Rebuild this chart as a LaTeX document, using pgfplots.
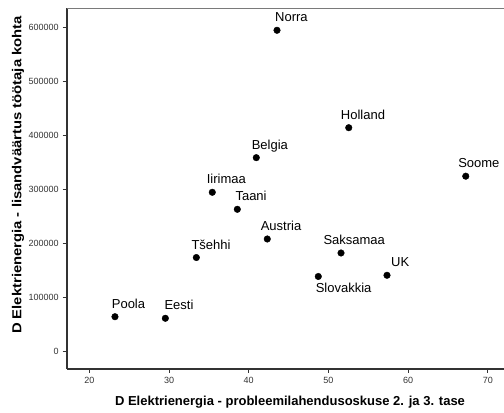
\documentclass[border=0pt]{standalone}
\usepackage{pgfplots}
\pgfplotsset{compat=1.18}
\usepackage{fontspec}
\setmainfont{Liberation Sans}
\definecolor{axdark}{HTML}{333333}
\definecolor{axtop}{HTML}{7A7A7A}
\begin{document}
\begin{tikzpicture}[x=1bp,y=1bp]
\path[use as bounding box] (0,0) rectangle (504,412);
\begin{axis}[
  at={(66.7bp,43.3bp)}, anchor=south west,
  scale only axis, width=437.3bp, height=360.4bp,
  xmin=17.164, xmax=72.03, ymin=-31480, ymax=635900,
  axis x line*=bottom, axis y line*=left,
  axis line style={axdark, line width=1.6bp, -},
  xtick={20,30,...,70}, ytick={0,100000,...,600000},
  tick align=outside, major tick length=4bp,
  tick style={axdark, line width=1bp},
  scaled y ticks=false,
  /pgf/number format/assume math mode=true,
  y tick label style={/pgf/number format/fixed, /pgf/number format/1000 sep={}},
  ticklabel style={font=\fontsize{9bp}{10bp}\selectfont, text=axdark},
  xticklabel style={yshift=-1bp},
  yticklabel style={xshift=-0.5bp},
  clip=false,
]
\draw[axtop, line width=1.3bp] (rel axis cs:0,1) -- (rel axis cs:1,1);
\addplot[only marks, mark=*, mark size=3.3bp, black,
  nodes near coords, point meta=explicit symbolic,
  visualization depends on={\thisrow{dx} \as \dx},
  visualization depends on={\thisrow{dy} \as \dy},
  nodes near coords style={anchor=base west, inner sep=0pt, xshift=\dx bp, yshift=\dy bp,
    font=\fontsize{13bp}{15bp}\selectfont, text=black}]
table[x=x, y=y, meta=label] {
x y label dx dy
43.55 595200 Norra -2 8.3
52.55 414800 Holland -8 8.3
40.95 359300 Belgia -4.7 8.3
67.23 325000 Soome -7.7 8.3
35.43 295200 Iirimaa -5.7 8.3
38.57 263700 Taani -2 8.3
42.33 208700 Austria -6.7 8.3
33.43 174400 Tšehhi -5 8.3
51.58 182800 Saksamaa -17.7 8.3
48.73 139300 Slovakkia -2.7 -15.7
57.35 141500 UK 4 8.3
23.22 64800 Poola -3.3 8.3
29.54 61900 Eesti -1 8.3
};
\end{axis}
\node[anchor=base, inner sep=0pt, font=\fontsize{13bp}{15bp}\selectfont\bfseries] at (290,6.7) {D Elektrienergia - probleemilahendusoskuse 2. ja 3. tase};
\node[anchor=base, rotate=90, xscale=1.14, inner sep=0pt, font=\fontsize{13bp}{15bp}\selectfont\bfseries] at (21.3,237) {D Elektrienergia - lisandväärtus töötaja kohta};
\end{tikzpicture}
\end{document}
